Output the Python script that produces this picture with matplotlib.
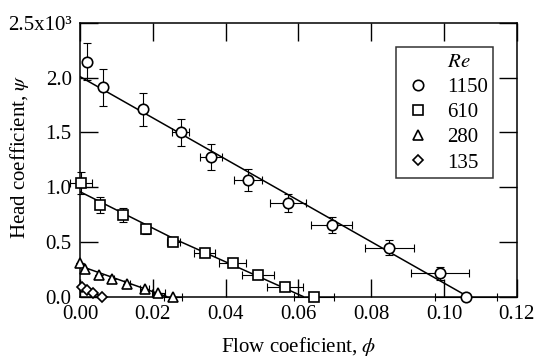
import matplotlib.pyplot as plt
from matplotlib.lines import Line2D

plt.rcParams['font.family'] = ['Liberation Serif', 'DejaVu Serif']
plt.rcParams['mathtext.fontset'] = 'stix'

# Re = 1150 (circles)
phi_1150 = [0.0018, 0.0064, 0.0172, 0.0277, 0.0360, 0.0462, 0.0572, 0.0691, 0.0850, 0.0989, 0.1060]
psi_1150 = [2.146, 1.912, 1.711, 1.500, 1.278, 1.062, 0.855, 0.654, 0.446, 0.212, 0.0]
yerr_1150 = [0.17, 0.17, 0.15, 0.12, 0.12, 0.10, 0.08, 0.07, 0.07, 0.06, 0.0]
xerr_1150 = [0.0, 0.0, 0.0010, 0.0023, 0.0030, 0.0038, 0.0049, 0.0056, 0.0068, 0.0079, 0.0085]
fit_x_1150 = [0.0, 0.1065]
fit_y_1150 = [2.01, 0.0]

# Re = 610 (squares)
phi_610 = [0.0003, 0.0055, 0.0119, 0.0180, 0.0256, 0.0342, 0.0420, 0.0489, 0.0563, 0.0644]
psi_610 = [1.035, 0.836, 0.745, 0.617, 0.501, 0.400, 0.303, 0.197, 0.090, 0.0]
yerr_610 = [0.10, 0.076, 0.06, 0.05, 0.04, 0.03, 0.03, 0.02, 0.02, 0.0]
xerr_610 = [0.003, 0.0, 0.0, 0.0010, 0.0018, 0.0030, 0.0037, 0.0044, 0.0050, 0.0055]
fit_x_610 = [0.0, 0.026, 0.0613]
fit_y_610 = [0.958, 0.525, 0.0]

# Re = 280 (triangles)
phi_280 = [0.0, 0.0014, 0.0053, 0.0088, 0.0128, 0.0178, 0.0215, 0.0255]
psi_280 = [0.305, 0.252, 0.196, 0.157, 0.110, 0.070, 0.034, 0.0]
xerr_280 = [0.0, 0.0, 0.0, 0.0005, 0.0008, 0.0012, 0.0018, 0.0024]
fit_x_280 = [0.0, 0.0238]
fit_y_280 = [0.28, 0.0]

# Re = 135 (diamonds)
phi_135 = [0.0005, 0.0020, 0.0037, 0.0060]
psi_135 = [0.090, 0.058, 0.030, 0.0]
fit_x_135 = [0.0, 0.0060]
fit_y_135 = [0.085, 0.0]

re_labels = ['1150', '610', '280', '135']
markers = ['o', 's', '^', 'D']
marker_sizes = [7.5, 6.5, 6.5, 5.5]

xticks = [0.00, 0.02, 0.04, 0.06, 0.08, 0.10, 0.12]
yticks = [0.0, 0.5, 1.0, 1.5, 2.0, 2.5]
ytick_labels = ['0.0', '0.5', '1.0', '1.5', '2.0', '2.5x10³']

FS = 15

fig = plt.figure(figsize=(5.39, 3.59), dpi=100)
ax = fig.add_axes([0.1484, 0.174, 0.8106, 0.762])

series = [
    (phi_1150, psi_1150, xerr_1150, yerr_1150, fit_x_1150, fit_y_1150),
    (phi_610, psi_610, xerr_610, yerr_610, fit_x_610, fit_y_610),
    (phi_280, psi_280, xerr_280, [0.0] * len(phi_280), fit_x_280, fit_y_280),
    (phi_135, psi_135, [0.0] * len(phi_135), [0.0] * len(phi_135), fit_x_135, fit_y_135),
]

for (x, y, xe, ye, fx, fy), m, ms in zip(series, markers, marker_sizes):
    ax.plot(fx, fy, color='black', lw=1.1, zorder=2)
    ax.errorbar(x, y, xerr=xe, yerr=ye, fmt='none', ecolor='black',
                elinewidth=0.8, capsize=3, capthick=0.8, zorder=3, clip_on=False)
    ax.plot(x, y, linestyle='none', marker=m, ms=ms, mfc='white', mec='black',
            mew=1.2, zorder=4, clip_on=False)

ax.set_xlim(0.0, 0.12)
ax.set_ylim(0.0, 2.5)
ax.set_xticks(xticks)
ax.set_xticklabels(['%.2f' % t for t in xticks])
ax.set_yticks(yticks)
ax.set_yticklabels(ytick_labels)
ax.tick_params(direction='in', length=13, width=1, top=True, right=True,
               labelsize=FS, pad=6)
for s in ax.spines.values():
    s.set_linewidth(1.1)

ax.set_xlabel('Flow coeficient, $\\phi$', fontsize=FS)
ax.set_ylabel('Head coefficient, $\\psi$', fontsize=FS)
ax.xaxis.set_label_coords(0.5, -0.14)
ax.yaxis.set_label_coords(-0.112, 0.51)

handles = [Line2D([], [], linestyle='none', marker='')]
for m, ms in zip(markers, marker_sizes):
    handles.append(Line2D([], [], linestyle='none', marker=m, ms=ms, mfc='white',
                          mec='black', mew=1.2))
leg = ax.legend(handles, ['$Re$'] + re_labels, loc='upper right',
                bbox_to_anchor=(0.945, 0.912), borderaxespad=0, fontsize=FS,
                frameon=True, fancybox=False, edgecolor='black', labelspacing=0.27,
                handletextpad=0.6, borderpad=0.25, handlelength=1.6)
leg.get_frame().set_linewidth(1.1)

fig.savefig('out.png', dpi=100)
